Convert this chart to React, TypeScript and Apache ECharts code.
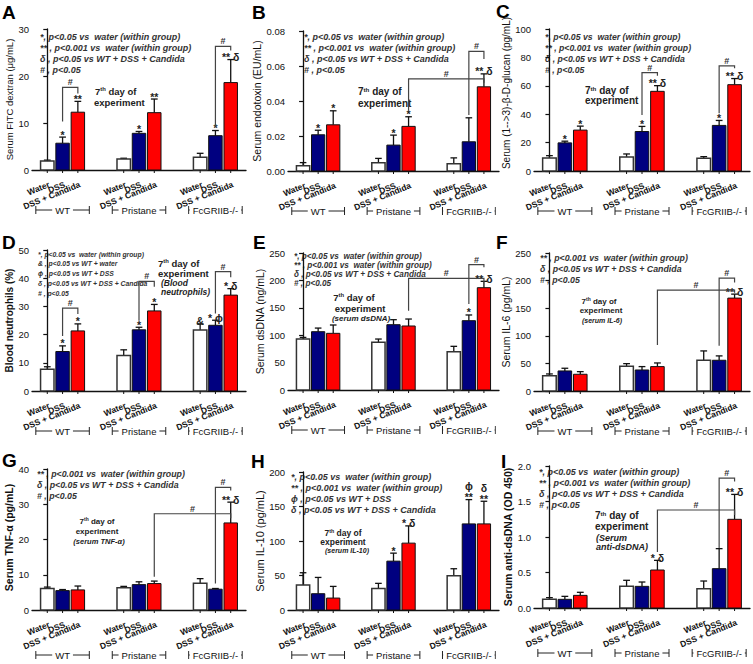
import React, { useEffect, useRef } from 'react';
import * as echarts from 'echarts';

const FONT = '"Liberation Sans", Arial, sans-serif';

const groupNames = ['WT', 'Pristane', 'FcGRIIB-/-'];
const treatmentNames = ['Water', 'DSS', 'DSS + Candida'];
const barFill = ['#ffffff', '#000080', '#ff0000'];
const slotsPerGroup = 5;
const barPositions = groupNames.flatMap((_, g) => treatmentNames.map((__, k) => g * slotsPerGroup + k));
const groupCenters = groupNames.map((_, g) => g * slotsPerGroup + 1);

// ---- A: FITC dextran
const aMeans = [1.9, 5.7, 12.3, 2.35, 7.8, 12.2, 2.7, 7.3, 18.6];
const aErrs = [0.2, 1.3, 2.3, 0.15, 0.4, 2.9, 0.85, 1.1, 4.9];
const aMarks = ['', '*', '**', '', '*', '**', '', '*', '** δ'];
const aBrackets = [[1, 2, 17.6, 10.3, 16.3], [7, 8, 26.3, 9.2, 25.4]];
// ---- B: endotoxin
const bMeans = [0.003, 0.0207, 0.0264, 0.0047, 0.0148, 0.0255, 0.0041, 0.0167, 0.0481];
const bErrs = [0.0018, 0.0026, 0.008, 0.0025, 0.0057, 0.0055, 0.0034, 0.0137, 0.0074];
const bMarks = ['', '*', '*', '', '*', '*', '', '', '** δ'];
const bBrackets = [[7, 8, 0.0684, 0.032, 0.064], [5, 8, 0.0526, 0.0348, 0.0505]];
// ---- C: beta-D-glucan
const cMeans = [9.2, 19.8, 28.8, 9.9, 27.8, 56.1, 9.0, 32.1, 60.8];
const cErrs = [1.6, 1.2, 2.8, 2.1, 3.6, 4.0, 1.1, 3.5, 4.3];
const cMarks = ['', '*', '*', '', '*', '** δ', '', '*', '** δ'];
const cBrackets = [[4, 5, 69.3, 39.4, 67], [7, 8, 74, 40.6, 72.4]];
// ---- D: blood neutrophils
const dMeans = [7.7, 14.0, 21.3, 12.6, 21.7, 28.4, 21.6, 23.3, 34.0];
const dErrs = [0.9, 2.0, 2.5, 2.0, 0.9, 2.3, 2.2, 1.8, 2.3];
const dMarks = ['', '*', '*', '', '*', '*', '&', '* ϕ', '* δ'];
const dBrackets = [[1, 2, 29.4, 19.5, 27.3], [4, 5, 38.9, 24.9, 37], [7, 8, 42.3, 27.5, 40.3]];
// ---- E: serum dsDNA
const eMeans = [93, 106.4, 103.4, 87, 119.2, 116.8, 70, 126.5, 186.7];
const eErrs = [3, 6.6, 15.2, 6, 9.1, 12.7, 9.7, 10.4, 11.6];
const eMarks = ['', '', '', '', '', '', '', '*', '** δ'];
const eBrackets = [[7, 8, 228.7, 157, 224], [5, 8, 203.8, 144.8, 197]];
// ---- F: IL-6
const fMeans = [27.8, 36.3, 30.3, 44.8, 38.1, 44.2, 55.7, 55.7, 168.3];
const fErrs = [3.1, 4.9, 4.8, 4.8, 6.1, 6.6, 16.9, 7.9, 7.2];
const fMarks = ['', '', '', '', '', '', '', '', '** δ'];
const fBrackets = [[7, 8, 204.6, 82, 196.7], [5, 8, 182.8, 83.5, 178]];
// ---- G: TNF-alpha
const gMeans = [6.1, 5.5, 5.7, 6.3, 7.2, 7.5, 7.6, 5.9, 24.7];
const gErrs = [0.4, 0.3, 1.1, 0.4, 0.8, 0.7, 1.3, 0.2, 5.9];
const gMarks = ['', '', '', '', '', '', '', '', '** δ'];
const gBrackets = [[7, 8, 34.8, 7.5, 33.9], [5, 8, 27.3, 9.4, 26]];
// ---- H: IL-10
const hMeans = [36.1, 23.6, 17.3, 31.3, 70.8, 96.9, 49.6, 124.8, 124.8];
const hErrs = [17.9, 23.6, 16.9, 7.3, 11.6, 25, 10.2, 35.2, 32.8];
const hMarks = ['', '', '', '', '*', '* δ', '', 'ϕ\n**', 'δ\n**'];
const hBrackets: number[][] = [];
// ---- I: anti-dsDNA
const iMeans = [0.122, 0.122, 0.178, 0.305, 0.305, 0.535, 0.272, 0.554, 1.249];
const iErrs = [0.024, 0.042, 0.043, 0.085, 0.061, 0.136, 0.108, 0.282, 0.351];
const iMarks = ['', '', '', '', '', '* δ', '', '', '** δ'];
const iBrackets = [[7, 8, 1.83, 0.845, 1.78], [5, 8, 1.38, 0.79, 1.31]];

const legendFour = ['*, p<0.05 vs  water (within group)', '** , p<0.001 vs  water (within group)', 'δ , p<0.05 vs WT + DSS + Candida', '# , p<0.05'];
const legendD = ['*, p<0.05 vs  water (within group)', '& , p<0.05 vs WT + water', 'ϕ , p<0.05 vs WT + DSS', 'δ , p<0.05 vs WT + DSS + Candida', '# , p<0.05'];
const legendThree = ['** , p<0.001 vs  water (within group)', 'δ , p<0.05 vs WT + DSS + Candida', '# , p<0.05'];
const legendH = ['*, p<0.05 vs  water (within group)', '** , p<0.001 vs  water (within group)', 'ϕ , p<0.05 vs WT + DSS', 'δ , p<0.05 vs WT + DSS + Candida'];

const DAY = '7{s|th} day of';

const panels: any[] = [
  { letter: 'A', lx: 2, ly: 12, left: 32, top: 29, y0: 170, right: 246, max: 30, step: 10, dec: 0, title: 'Serum FITC dextran (μg/mL)', tSize: 9.5, tWeight: 'normal', gap: 14, tShift: 0, means: aMeans, errs: aErrs, marks: aMarks, brackets: aBrackets, legend: legendFour, lgX: 40, lgY: 36.5, lgDy: 11, lgSize: 9, gOff: 40,
    day: [{ t: DAY, x: 95, y: 91, s: 9.5 }, { t: 'experiment', x: 94, y: 102, s: 9.5 }] },
  { letter: 'B', lx: 252, ly: 12, left: 288, top: 31, y0: 171, right: 499, max: 0.08, step: 0.02, dec: 2, title: 'Serum endotoxin (EU/mL)', tSize: 10.5, tWeight: 'normal', gap: 22, tShift: 0, means: bMeans, errs: bErrs, marks: bMarks, brackets: bBrackets, legend: legendFour, lgX: 304, lgY: 36.5, lgDy: 11, lgSize: 9, gOff: 40,
    day: [{ t: DAY, x: 358, y: 91, s: 10 }, { t: 'experiment', x: 358, y: 103, s: 10 }] },
  { letter: 'C', lx: 496, ly: 11, left: 534, top: 29, y0: 171, right: 750, max: 100, step: 20, dec: 0, title: 'Serum (1-->3)-β-D-glucan (pg/mL)', tSize: 10, tWeight: 'normal', gap: 20, tShift: 14, means: cMeans, errs: cErrs, marks: cMarks, brackets: cBrackets, legend: legendFour, lgX: 545, lgY: 36.5, lgDy: 11, lgSize: 8.7, gOff: 40,
    day: [{ t: DAY, x: 585, y: 90, s: 10 }, { t: 'experiment', x: 585, y: 100, s: 10 }] },
  { letter: 'D', lx: 2, ly: 242, left: 32, top: 250, y0: 391, right: 246, max: 50, step: 10, dec: 0, title: 'Blood neutrophils (%)', tSize: 10, tWeight: 'bold', gap: 14, tShift: 0, means: dMeans, errs: dErrs, marks: dMarks, brackets: dBrackets, legend: legendD, lgX: 38, lgY: 254, lgDy: 9.8, lgSize: 6.8, gOff: 40,
    day: [{ t: DAY, x: 158, y: 263, s: 9.5 }, { t: 'experiment', x: 158, y: 273, s: 9.5 }, { t: '(Blood', x: 161, y: 283, s: 8.5, it: true }, { t: 'neutrophils)', x: 161, y: 292, s: 8.5, it: true }] },
  { letter: 'E', lx: 253, ly: 242, left: 288, top: 253, y0: 390, right: 499, max: 250, step: 50, dec: 0, title: 'Serum dsDNA (ng/mL)', tSize: 10.5, tWeight: 'normal', gap: 20, tShift: 0, means: eMeans, errs: eErrs, marks: eMarks, brackets: eBrackets, legend: legendFour, lgX: 294, lgY: 256, lgDy: 9.1, lgSize: 8.2, gOff: 40,
    day: [{ t: DAY, x: 354, y: 297, s: 9.5, c: true }, { t: 'experiment', x: 360, y: 308, s: 9.5, c: true }, { t: '(serum dsDNA)', x: 361, y: 318, s: 8, it: true, c: true }] },
  { letter: 'F', lx: 496, ly: 242, left: 534, top: 253, y0: 391, right: 750, max: 250, step: 50, dec: 0, title: 'Serum IL-6 (pg/mL)', tSize: 10.5, tWeight: 'normal', gap: 15.5, tShift: 0, means: fMeans, errs: fErrs, marks: fMarks, brackets: fBrackets, legend: legendThree, lgX: 540, lgY: 258, lgDy: 10.8, lgSize: 8.8, gOff: 40,
    day: [{ t: DAY, x: 599, y: 301, s: 8, c: true }, { t: 'experiment', x: 601, y: 310, s: 8, c: true }, { t: '(serum IL-6)', x: 602, y: 320, s: 7, it: true, c: true }] },
  { letter: 'G', lx: 2, ly: 460, left: 32, top: 469, y0: 610, right: 246, max: 40, step: 10, dec: 0, title: 'Serum TNF-α (pg/mL)', tSize: 10.5, tWeight: 'bold', gap: 14.5, tShift: 4, means: gMeans, errs: gErrs, marks: gMarks, brackets: gBrackets, legend: legendThree, lgX: 37, lgY: 474, lgDy: 10.8, lgSize: 8.8, gOff: 45,
    day: [{ t: DAY, x: 97, y: 521, s: 8, c: true }, { t: 'experiment', x: 97, y: 531, s: 8, c: true }, { t: '(serum TNF-α)', x: 99, y: 541, s: 7.5, it: true, c: true }] },
  { letter: 'H', lx: 251, ly: 461, left: 288, top: 472, y0: 610, right: 499, max: 200, step: 50, dec: 0, title: 'Serum IL-10 (pg/mL)', tSize: 11, tWeight: 'normal', gap: 19.5, tShift: 0, means: hMeans, errs: hErrs, marks: hMarks, brackets: hBrackets, legend: legendH, lgX: 291, lgY: 476.5, lgDy: 11.1, lgSize: 9, gOff: 45,
    day: [{ t: DAY, x: 343, y: 533, s: 8.5, c: true }, { t: 'experiment', x: 343, y: 542, s: 8.5, c: true }, { t: '(serum IL-10)', x: 347, y: 550, s: 7, it: true, c: true }] },
  { letter: 'I', lx: 501, ly: 461, left: 534, top: 466, y0: 608, right: 750, max: 2.0, step: 0.5, dec: 1, title: 'Serum anti-dsDNA (OD 450)', tSize: 10.5, tWeight: 'bold', gap: 14.5, tShift: 0, means: iMeans, errs: iErrs, marks: iMarks, brackets: iBrackets, legend: legendFour, lgX: 539, lgY: 471.5, lgDy: 11.1, lgSize: 9, gOff: 45,
    day: [{ t: DAY, x: 595, y: 515, s: 10 }, { t: 'experiment', x: 595, y: 526, s: 10 }, { t: '(Serum', x: 596, y: 538, s: 9, it: true }, { t: 'anti-dsDNA)', x: 596, y: 547, s: 9, it: true }] },
];

const INK = '#111';

function txt(style: any) {
  const s: any = { fontFamily: FONT, fill: INK, ...style };
  if (s.align) s.textAlign = s.align;
  if (s.verticalAlign) s.textVerticalAlign = s.verticalAlign;
  return s;
}

function barRenderer(p: any) {
  return (params: any, api: any) => {
    const i = params.dataIndex;
    const k = i % 3;
    const x = api.value(0);
    const v = api.value(1);
    const e = api.value(2);
    const base = api.coord([x, 0]);
    const top = api.coord([x, v]);
    const et = api.coord([x, v + e]);
    const slot = api.size([1, 0])[0];
    const bw = slot * 0.88;
    const cap = bw * 0.5;
    const ch: any[] = [
      { type: 'line', shape: { x1: top[0], y1: top[1], x2: et[0], y2: et[1] }, style: { stroke: INK, lineWidth: 1.3 } },
      { type: 'line', shape: { x1: et[0] - cap / 2, y1: et[1], x2: et[0] + cap / 2, y2: et[1] }, style: { stroke: INK, lineWidth: 1.3 } },
      { type: 'rect', shape: { x: base[0] - bw / 2, y: top[1], width: bw, height: base[1] - top[1] }, style: { fill: barFill[k], stroke: k === 0 ? '#333' : INK, lineWidth: k === 0 ? 1.5 : 1 } },
      { type: 'line', shape: { x1: base[0], y1: base[1], x2: base[0], y2: base[1] + 3 }, style: { stroke: INK, lineWidth: 1 } },
      { type: 'text', x: base[0] + 2, y: base[1] + 14, rotation: (22 * Math.PI) / 180,
        style: txt({ text: treatmentNames[k], align: 'right', verticalAlign: 'middle', fontSize: 8.5, fontWeight: 'bold' }) },
    ];
    const m = p.marks[i];
    if (m) {
      ch.push({ type: 'text', x: et[0], y: et[1] + 3,
        style: txt({ text: m, align: 'center', verticalAlign: 'bottom', fontSize: 10.5, fontWeight: 'bold', fill: '#222', lineHeight: 11 }) });
    }
    return { type: 'group', children: ch };
  };
}

function bracketRenderer() {
  return (params: any, api: any) => {
    const x1 = api.value(0);
    const x2 = api.value(1);
    const t = api.value(2);
    const a = api.coord([x1, api.value(3)]);
    const b = api.coord([x1, t]);
    const c = api.coord([x2, t]);
    const d = api.coord([x2, api.value(4)]);
    return {
      type: 'group',
      children: [
        { type: 'polyline', shape: { points: [a, b, c, d] }, style: { stroke: '#444', lineWidth: 1.2, fill: 'none' } },
        { type: 'text', x: (b[0] + c[0]) / 2, y: b[1] - 1,
          style: txt({ text: '#', align: 'center', verticalAlign: 'bottom', fontSize: 9, fontWeight: 'bold', fill: '#333', lineHeight: 8 }) },
      ],
    };
  };
}

function groupRenderer(p: any) {
  return (params: any, api: any) => {
    const c = api.coord([api.value(0), 0]);
    const hw = api.size([1.75, 0])[0];
    const y = c[1] + p.gOff;
    const st = { stroke: '#222', lineWidth: 1 };
    return {
      type: 'group',
      children: [
        { type: 'line', shape: { x1: c[0] - hw, y1: y, x2: c[0] + hw, y2: y }, style: st },
        { type: 'line', shape: { x1: c[0] - hw, y1: y - 4, x2: c[0] - hw, y2: y + 4 }, style: st },
        { type: 'line', shape: { x1: c[0] + hw, y1: y - 4, x2: c[0] + hw, y2: y + 4 }, style: st },
        { type: 'text', x: c[0], y,
          style: txt({ text: groupNames[params.dataIndex], align: 'center', verticalAlign: 'middle', fontSize: 9.5, backgroundColor: '#fff', padding: [1, 3] }) },
      ],
    };
  };
}

function buildOption() {
  const series: any[] = [];
  const graphic: any[] = [];
  panels.forEach((p, i) => {
    series.push({
      type: 'custom', xAxisIndex: i, yAxisIndex: i, clip: false, silent: true, z: 3,
      renderItem: barRenderer(p),
      encode: { x: 0, y: [1, 2] },
      data: p.means.map((m: number, j: number) => [barPositions[j], m, p.errs[j]]),
    });
    if (p.brackets.length) {
      series.push({
        type: 'custom', xAxisIndex: i, yAxisIndex: i, clip: false, silent: true, z: 4,
        renderItem: bracketRenderer(),
        encode: { x: [0, 1], y: [2, 3, 4] },
        data: p.brackets.map((b: number[]) => [barPositions[b[0]], barPositions[b[1]], b[2], b[3], b[4]]),
      });
    }
    series.push({
      type: 'custom', xAxisIndex: i, yAxisIndex: i, clip: false, silent: true, z: 3,
      renderItem: groupRenderer(p),
      encode: { x: 0, y: 1 },
      data: groupCenters.map((c) => [c, 0]),
    });

    graphic.push({ type: 'text', x: p.lx, y: p.ly, style: txt({ text: p.letter, fontSize: 19, fontWeight: 'bold', verticalAlign: 'middle', fill: '#000' }) });
    p.legend.forEach((line: string, j: number) => {
      graphic.push({ type: 'text', x: p.lgX, y: p.lgY + j * p.lgDy,
        style: txt({ text: line, fontSize: p.lgSize, fontWeight: 'bold', fontStyle: 'italic', verticalAlign: 'middle', fill: '#333' }) });
    });
    p.day.forEach((d: any) => {
      graphic.push({ type: 'text', x: d.x, y: d.y,
        style: txt({ text: d.t, fontSize: d.s, fontWeight: 'bold', fontStyle: d.it ? 'italic' : 'normal', verticalAlign: 'middle', align: d.c ? 'center' : 'left', fill: '#222',
          rich: { s: { fontSize: d.s * 0.62, fontWeight: 'bold', fontFamily: FONT, fill: '#222', verticalAlign: 'top' } } }) });
    });
  });

  return {
    animation: false,
    backgroundColor: '#ffffff',
    grid: panels.map((p) => ({ left: p.left, top: p.top, width: p.right - p.left, height: p.y0 - p.top, containLabel: false })),
    xAxis: panels.map((p, i) => ({
      gridIndex: i, type: 'value', min: -1, max: 13,
      axisLine: { show: true, onZero: true, lineStyle: { color: INK, width: 1.3 } },
      axisTick: { show: false }, axisLabel: { show: false }, splitLine: { show: false },
    })),
    yAxis: panels.map((p, i) => ({
      gridIndex: i, type: 'value', min: 0, max: p.max, interval: p.step,
      axisLine: { show: true, lineStyle: { color: INK, width: 1.3 } },
      axisTick: { show: true, length: 4, lineStyle: { color: INK, width: 1.2 } },
      splitLine: { show: false },
      axisLabel: { fontSize: 9.5, color: INK, margin: 3, fontFamily: FONT, formatter: (v: number) => v.toFixed(p.dec) },
      name: p.title, nameLocation: 'middle', nameGap: p.gap, nameRotate: 90,
      nameTextStyle: { fontSize: p.tSize, fontWeight: p.tWeight, color: INK, fontFamily: FONT, padding: [0, 0, 0, p.tShift] },
    })),
    series,
    graphic,
  };
}

export default function App() {
  const ref = useRef<HTMLDivElement>(null);
  useEffect(() => {
    if (!ref.current) return;
    const chart = echarts.init(ref.current, null, { renderer: 'svg' });
    chart.setOption(buildOption() as any);
    return () => chart.dispose();
  }, []);
  return <div ref={ref} style={{ position: 'absolute', left: 0, top: 0, width: 753, height: 664, background: '#fff' }} />;
}
